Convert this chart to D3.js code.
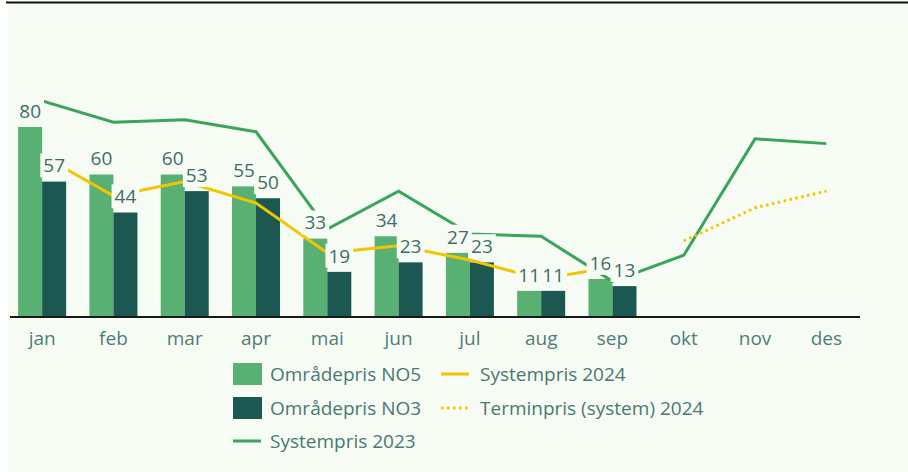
<!DOCTYPE html>
<html>
<head>
<meta charset="utf-8">
<script src="https://cdn.jsdelivr.net/npm/d3@7"></script>
<style>
  body { margin: 0; background: #ffffff; }
  text { font-family: "Open Sans", sans-serif; font-weight: 500; }
</style>
</head>
<body>
<div id="chart"></div>
<script>
// months and series
var months = ["jan", "feb", "mar", "apr", "mai", "jun", "jul", "aug", "sep", "okt", "nov", "des"];
var no5 = [80, 60, 60, 55, 33, 34, 27, 11, 16];
var no3 = [57, 44, 53, 50, 19, 23, 23, 11, 13];
var sys2023 = [91, 82, 83, 78, 37, 53, 35, 34, 15, 26, 75, 73];
var sys2024 = [68, 51, 57, 48, 27, 30, 24, 16, 21];
var terminMonths = ["okt", "nov", "des"];
var termin2024 = [32, 46, 53];

var legendItems = [
  {label: "Områdepris NO5", kind: "rect", color: "#58b072"},
  {label: "Områdepris NO3", kind: "rect", color: "#1d5752"},
  {label: "Systempris 2023", kind: "line", color: "#3aa35c"},
  {label: "Systempris 2024", kind: "line", color: "#f3c400"},
  {label: "Terminpris (system) 2024", kind: "dots", color: "#f3c400"}
];

var W = 908, H = 472;
var bg = "#f6fcf4";
var textColor = "#3f6c67";

var svg = d3.select("#chart")
  .append("svg")
    .attr("width", W)
    .attr("height", H);

// background + top rule
svg.append("rect")
  .attr("x", 8).attr("y", 4)
  .attr("width", W - 8).attr("height", H - 4)
  .attr("fill", bg);
svg.append("line")
  .attr("x1", 6).attr("x2", W)
  .attr("y1", 2.5).attr("y2", 2.5)
  .attr("stroke", "#111").attr("stroke-width", 2);

var x = d3.scaleBand()
  .domain(months)
  .range([6.5, 862])
  .padding(0);

var xs = d3.scaleBand()
  .domain(["NO5", "NO3"])
  .range([0, x.bandwidth()])
  .paddingInner(0)
  .paddingOuter(0.485);

var y = d3.scaleLinear()
  .domain([0, 100])
  .range([317, 79.5]);

var cx = function(m) { return x(m) + x.bandwidth() / 2; };

// bars
var barData = [];
no5.forEach(function(v, i) { barData.push({m: months[i], s: "NO5", v: v}); });
no3.forEach(function(v, i) { barData.push({m: months[i], s: "NO3", v: v}); });

svg.append("g")
  .selectAll("rect")
  .data(barData)
  .enter()
  .append("rect")
    .attr("x", function(d) { return x(d.m) + xs(d.s); })
    .attr("y", function(d) { return y(d.v); })
    .attr("width", xs.bandwidth())
    .attr("height", function(d) { return y(0) - y(d.v); })
    .attr("fill", function(d) { return d.s == "NO5" ? "#58b072" : "#1d5752"; });

// axis
var xAxis = svg.append("g")
  .attr("transform", "translate(0," + y(0) + ")")
  .call(d3.axisBottom(x).tickSize(0).tickPadding(15));
xAxis.select(".domain")
  .attr("d", "M10,0H860")
  .attr("stroke", "#1a1a1a")
  .attr("stroke-width", 2);
xAxis.selectAll("text")
  .style("font-family", "'Open Sans', sans-serif")
  .style("font-weight", 500)
  .style("font-size", "19px")
  .attr("fill", "#4f7d78");

// lines
var line = d3.line()
  .x(function(d) { return cx(d.m); })
  .y(function(d) { return y(d.v); });

svg.append("path")
  .datum(sys2023.map(function(v, i) { return {m: months[i], v: v}; }))
  .attr("d", line)
  .attr("fill", "none")
  .attr("stroke", "#3aa35c")
  .attr("stroke-width", 3);

svg.append("path")
  .datum(sys2024.map(function(v, i) { return {m: months[i], v: v}; }))
  .attr("d", line)
  .attr("fill", "none")
  .attr("stroke", "#f3c400")
  .attr("stroke-width", 3);

svg.append("path")
  .datum(termin2024.map(function(v, i) { return {m: terminMonths[i], v: v}; }))
  .attr("d", line)
  .attr("fill", "none")
  .attr("stroke", "#f3c400")
  .attr("stroke-width", 3)
  .attr("stroke-dasharray", "2.5,3.5");

// data labels with a background box that hides what is under them
var labels = svg.append("g")
  .selectAll("g")
  .data(barData)
  .enter()
  .append("g")
    .attr("transform", function(d) {
      return "translate(" + (x(d.m) + xs(d.s) + xs.bandwidth() / 2) + "," + (y(d.v) - 16) + ")";
    });

labels.append("text")
  .attr("text-anchor", "middle")
  .attr("dy", "0.36em")
  .style("font-size", "19px")
  .attr("fill", textColor)
  .text(function(d) { return d.v; });

labels.each(function() {
  var g = d3.select(this);
  var bb = g.select("text").node().getBBox();
  g.insert("rect", "text")
    .attr("x", bb.x - 3)
    .attr("y", bb.y + 1)
    .attr("width", bb.width + 6)
    .attr("height", bb.height - 2)
    .attr("fill", bg);
});

// legend
var legendPos = [[233, 374], [233, 408], [233, 441], [441, 374], [441, 408]];
var legend = svg.append("g")
  .selectAll("g")
  .data(legendItems)
  .enter()
  .append("g")
    .attr("transform", function(d, i) { return "translate(" + legendPos[i][0] + "," + legendPos[i][1] + ")"; });

legend.filter(function(d) { return d.kind == "rect"; })
  .append("rect")
    .attr("x", 0).attr("y", -11)
    .attr("width", 29).attr("height", 22)
    .attr("fill", function(d) { return d.color; });

legend.filter(function(d) { return d.kind != "rect"; })
  .append("line")
    .attr("x1", 0).attr("x2", 28)
    .attr("y1", 0).attr("y2", 0)
    .attr("stroke", function(d) { return d.color; })
    .attr("stroke-width", 3)
    .attr("stroke-dasharray", function(d) { return d.kind == "dots" ? "2.5,3.5" : null; });

legend.append("text")
  .attr("x", function(d) { return d.kind == "rect" || d.label == "Systempris 2023" ? 37 : 39; })
  .attr("dy", "0.36em")
  .style("font-size", "19px")
  .attr("fill", "#4a7873")
  .text(function(d) { return d.label; });
</script>
</body>
</html>
